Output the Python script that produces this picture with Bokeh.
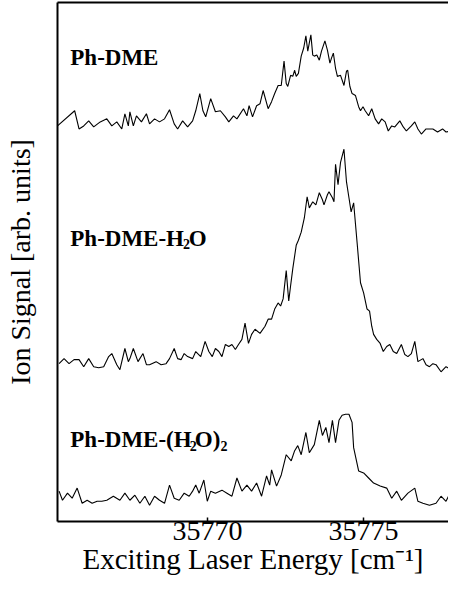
from bokeh.plotting import figure
from bokeh.models import Range1d, FixedTicker, LinearAxis, Label
from bokeh.embed import file_html
from bokeh.resources import INLINE

# ---- data: (energy [cm-1], ion signal [arb. units]) ----
ph_dme = [
    (35765.19, 10), (35765.74, 25), (35765.88, 7), (35766.03, 10), (35766.19, 15),
    (35766.35, 9), (35766.56, 14), (35766.77, 17), (35766.93, 10), (35767.09, 14),
    (35767.25, 7), (35767.35, 22), (35767.46, 10), (35767.51, 24), (35767.62, 10),
    (35767.72, 20), (35767.88, 14), (35768.04, 22), (35768.14, 12), (35768.30, 17),
    (35768.46, 14), (35768.62, 17), (35768.78, 26), (35768.93, 12), (35769.04, 7),
    (35769.20, 15), (35769.36, 9), (35769.52, 15), (35769.62, 25), (35769.75, 42),
    (35769.85, 25), (35769.94, 19), (35770.10, 37), (35770.25, 24), (35770.41, 25),
    (35770.57, 19), (35770.68, 14), (35770.83, 20), (35770.94, 17), (35771.15, 27),
    (35771.26, 20), (35771.33, 30), (35771.44, 19), (35771.57, 30), (35771.68, 32),
    (35771.78, 45), (35771.94, 27), (35772.05, 34), (35772.15, 42), (35772.26, 50),
    (35772.36, 50), (35772.45, 74), (35772.52, 52), (35772.57, 49), (35772.66, 60),
    (35772.73, 59), (35772.79, 65), (35772.84, 59), (35772.91, 62), (35773.00, 79),
    (35773.08, 87), (35773.15, 99), (35773.21, 84), (35773.26, 92), (35773.31, 100),
    (35773.37, 80), (35773.42, 79), (35773.50, 80), (35773.58, 75), (35773.65, 84),
    (35773.76, 94), (35773.84, 85), (35773.92, 72), (35773.97, 77), (35774.03, 82),
    (35774.10, 67), (35774.16, 59), (35774.26, 60), (35774.37, 50), (35774.45, 64),
    (35774.49, 65), (35774.56, 49), (35774.63, 42), (35774.74, 40), (35774.84, 29),
    (35774.90, 25), (35774.98, 29), (35775.05, 25), (35775.16, 20), (35775.26, 27),
    (35775.37, 17), (35775.48, 12), (35775.58, 17), (35775.69, 14), (35775.79, 5),
    (35775.90, 10), (35776.00, 9), (35776.16, 15), (35776.27, 9), (35776.37, 5),
    (35776.53, 10), (35776.64, 14), (35776.74, 7), (35776.85, 2), (35777.00, 7),
    (35777.22, 7), (35777.37, 4), (35777.53, 7), (35777.64, 4), (35777.80, 5),
    (35777.98, 9),
]

ph_dme_h2o = [
    (35765.24, 11), (35765.40, 16), (35765.56, 11), (35765.72, 15), (35765.88, 15),
    (35766.03, 8), (35766.19, 16), (35766.35, 8), (35766.51, 7), (35766.67, 8),
    (35766.83, 18), (35766.93, 21), (35767.09, 10), (35767.19, 5), (35767.35, 26),
    (35767.46, 13), (35767.51, 16), (35767.62, 26), (35767.77, 13), (35767.93, 21),
    (35768.04, 10), (35768.14, 10), (35768.35, 13), (35768.51, 10), (35768.67, 11),
    (35768.78, 16), (35768.93, 26), (35769.04, 16), (35769.15, 15), (35769.25, 21),
    (35769.36, 18), (35769.52, 16), (35769.62, 23), (35769.78, 18), (35769.92, 33),
    (35770.04, 23), (35770.15, 18), (35770.25, 26), (35770.36, 23), (35770.46, 18),
    (35770.57, 30), (35770.68, 28), (35770.78, 30), (35770.89, 25), (35770.99, 30),
    (35771.10, 35), (35771.20, 51), (35771.31, 31), (35771.41, 40), (35771.52, 45),
    (35771.68, 41), (35771.84, 48), (35771.94, 55), (35772.05, 55), (35772.15, 65),
    (35772.26, 71), (35772.34, 68), (35772.42, 75), (35772.52, 103), (35772.60, 73),
    (35772.66, 88), (35772.73, 105), (35772.84, 128), (35772.91, 133), (35773.00, 141),
    (35773.10, 155), (35773.19, 176), (35773.26, 165), (35773.37, 171), (35773.47, 168),
    (35773.58, 180), (35773.68, 173), (35773.73, 168), (35773.84, 178), (35773.89, 181),
    (35774.00, 175), (35774.05, 171), (35774.10, 208), (35774.18, 188), (35774.26, 210),
    (35774.37, 223), (35774.45, 191), (35774.53, 175), (35774.60, 161), (35774.68, 170),
    (35774.79, 131), (35774.90, 91), (35775.00, 81), (35775.11, 65), (35775.19, 63),
    (35775.26, 48), (35775.32, 40), (35775.42, 35), (35775.53, 31), (35775.63, 23),
    (35775.74, 28), (35775.84, 30), (35775.95, 23), (35776.06, 21), (35776.21, 30),
    (35776.32, 20), (35776.42, 18), (35776.53, 21), (35776.64, 33), (35776.74, 13),
    (35776.90, 16), (35777.00, 10), (35777.11, 8), (35777.22, 11), (35777.32, 10),
    (35777.48, 3), (35777.64, 8), (35777.80, 5), (35777.98, 6),
]

ph_dme_h2o_2 = [
    (35765.24, 19), (35765.35, 10), (35765.51, 17), (35765.66, 12), (35765.82, 22),
    (35765.98, 7), (35766.14, 10), (35766.30, 7), (35766.46, 9), (35766.61, 9),
    (35766.77, 10), (35766.98, 14), (35767.19, 10), (35767.35, 17), (35767.51, 10),
    (35767.67, 15), (35767.83, 7), (35767.99, 14), (35768.14, 5), (35768.30, 14),
    (35768.46, 10), (35768.62, 7), (35768.78, 25), (35768.93, 12), (35769.09, 10),
    (35769.25, 17), (35769.41, 14), (35769.52, 19), (35769.62, 25), (35769.73, 17),
    (35769.88, 30), (35769.99, 9), (35770.10, 19), (35770.25, 17), (35770.46, 20),
    (35770.62, 17), (35770.78, 14), (35770.94, 32), (35771.10, 19), (35771.26, 25),
    (35771.41, 19), (35771.57, 27), (35771.73, 14), (35771.89, 34), (35771.99, 25),
    (35772.05, 40), (35772.21, 24), (35772.36, 35), (35772.52, 55), (35772.68, 49),
    (35772.79, 59), (35772.89, 64), (35773.00, 55), (35773.15, 77), (35773.26, 57),
    (35773.42, 65), (35773.58, 89), (35773.68, 74), (35773.79, 82), (35773.89, 67),
    (35774.00, 89), (35774.10, 67), (35774.21, 89), (35774.31, 94), (35774.42, 95),
    (35774.53, 95), (35774.63, 87), (35774.68, 62), (35774.84, 39), (35775.00, 37),
    (35775.16, 32), (35775.32, 27), (35775.53, 24), (35775.74, 22), (35775.90, 12),
    (35776.06, 19), (35776.21, 10), (35776.42, 17), (35776.64, 22), (35776.74, 9),
    (35776.90, 7), (35777.11, 5), (35777.32, 7), (35777.48, 14), (35777.64, 9),
    (35777.80, 19), (35777.98, 12),
]

series_names = ["Ph-DME", "Ph-DME-H2O", "Ph-DME-(H2O)2"]
series_offsets = [381, 145, 11]   # vertical stacking offsets (arb. units)
x_ticks = [35770, 35775]

SERIF = "Liberation Serif"

p = figure(width=448, height=581,
           x_range=Range1d(35765.19, 35777.72), y_range=Range1d(0, 513),
           output_backend="svg", toolbar_location=None,
           min_border_left=57, min_border_right=0, min_border_top=2,
           min_border_bottom=60)
p.outline_line_color = None
p.xgrid.visible = False
p.ygrid.visible = False
p.background_fill_color = "white"
p.border_fill_color = "white"

for data, off in zip([ph_dme, ph_dme_h2o, ph_dme_h2o_2], series_offsets):
    xs = [d[0] for d in data]
    ys = [d[1] + off for d in data]
    p.line(xs, ys, line_color="black", line_width=1.1)

# x axis
xa = p.xaxis[0]
xa.ticker = FixedTicker(ticks=x_ticks)
xa.minor_tick_line_color = None
xa.major_tick_in = 4
xa.major_tick_out = 0
xa.major_tick_line_width = 1.5
xa.axis_line_width = 2
xa.major_label_text_font = SERIF
xa.major_label_text_font_size = "28px"
xa.major_label_text_color = "black"
xa.major_label_standoff = 0
xa.axis_label = "Exciting Laser Energy [cm\u207b\u00b9]"
xa.axis_label_text_font = SERIF
xa.axis_label_text_font_size = "29px"
xa.axis_label_text_font_style = "normal"
xa.axis_label_text_color = "black"
xa.axis_label_standoff = 0

# y axis
ya = p.yaxis[0]
ya.ticker = FixedTicker(ticks=[])
ya.minor_tick_line_color = None
ya.major_tick_line_color = None
ya.major_label_text_font_size = "0px"
ya.axis_line_width = 2
ya.axis_label = "Ion Signal [arb. units]"
ya.axis_label_text_font = SERIF
ya.axis_label_text_font_size = "28px"
ya.axis_label_text_font_style = "normal"
ya.axis_label_text_color = "black"
ya.axis_label_standoff = 22

# top frame line
top = LinearAxis(ticker=FixedTicker(ticks=[]), major_label_text_font_size="0px",
                 major_tick_line_color=None, minor_tick_line_color=None,
                 major_label_standoff=0, axis_label_standoff=0,
                 axis_line_width=2)
p.add_layout(top, "above")

def lab(x, y, t, size="23px"):
    p.add_layout(Label(x=x, y=y, text=t, text_font=SERIF, text_font_size=size,
                       text_font_style="bold", text_color="black",
                       text_baseline="alphabetic", text_align="left"))

lab(35765.60, 459, "Ph-DME")
lab(35765.60, 280, "Ph-DME-H")
lab(35769.21, 274, "2", "14px")
lab(35769.40, 280, "O")
lab(35765.60, 81, "Ph-DME-(H")
lab(35769.43, 75, "2", "14px")
lab(35769.59, 81, "O)")
lab(35770.41, 75, "2", "14px")

open("out.html", "w").write(file_html(p, INLINE))
